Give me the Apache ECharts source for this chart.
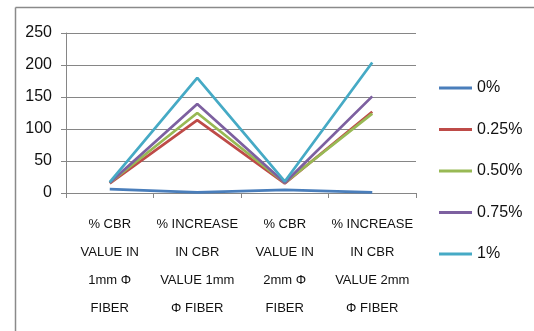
<!DOCTYPE html>
<html>
<head>
<meta charset="utf-8">
<script src="https://cdn.jsdelivr.net/npm/echarts@6/dist/echarts.min.js"></script>
<style>
  html, body { margin: 0; padding: 0; background: #fff; }
  #chart { width: 534px; height: 331px; }
</style>
</head>
<body>
<div id="chart"></div>
<script>
// Categories along the x axis
var categories = [
  '% CBR\nVALUE IN\n1mm Φ\nFIBER',
  '% INCREASE\nIN CBR\nVALUE 1mm\nΦ FIBER',
  '% CBR\nVALUE IN\n2mm Φ\nFIBER',
  '% INCREASE\nIN CBR\nVALUE 2mm\nΦ FIBER'
];

// Series names (fiber content)
var seriesNames = ['0%', '0.25%', '0.50%', '0.75%', '1%'];

// Values per series
var s0 = [6, 1, 5, 1];
var s025 = [15, 114, 15, 127];
var s050 = [16, 125, 16, 124];
var s075 = [16, 139, 16, 151];
var s1 = [17, 180, 18, 204];

var seriesColors = ['#4A7EBB', '#BE4B48', '#98B954', '#7D60A0', '#46AAC5'];

var FONT = '"Liberation Sans Narrow", "Liberation Sans", sans-serif';

var chart = echarts.init(document.getElementById('chart'), null, { renderer: 'canvas' });

var allValues = [s0, s025, s050, s075, s1];

chart.setOption({
  animation: false,
  backgroundColor: '#fff',
  grid: { left: 66, top: 33, right: 118, bottom: 138 },
  graphic: [
    { type: 'line', shape: { x1: 15.5, y1: 7.5, x2: 534, y2: 7.5 }, style: { stroke: '#8a8a8a', lineWidth: 1.5 } },
    { type: 'line', shape: { x1: 15.5, y1: 7.5, x2: 15.5, y2: 331 }, style: { stroke: '#8a8a8a', lineWidth: 1.5 } }
  ],
  legend: {
    orient: 'vertical',
    left: 434,
    top: 75,
    itemGap: 25.5,
    itemWidth: 33,
    itemHeight: 3,
    icon: 'rect',
    textStyle: { fontFamily: FONT, fontSize: 16, color: '#111' },
    data: seriesNames
  },
  xAxis: {
    type: 'category',
    data: categories,
    boundaryGap: true,
    axisLine: { lineStyle: { color: '#868686', width: 1 } },
    axisTick: { show: true, length: 5, lineStyle: { color: '#868686' } },
    axisLabel: {
      interval: 0,
      fontFamily: FONT,
      fontSize: 13,
      color: '#111',
      lineHeight: 28,
      margin: 17
    }
  },
  yAxis: {
    type: 'value',
    min: 0,
    max: 250,
    interval: 50,
    axisLine: { show: true, lineStyle: { color: '#868686', width: 1 } },
    axisTick: { show: true, length: 5, lineStyle: { color: '#868686' } },
    splitLine: { lineStyle: { color: '#868686', width: 1 } },
    axisLabel: {
      fontFamily: FONT,
      fontSize: 16,
      color: '#111',
      margin: 14
    }
  },
  series: seriesNames.map(function (name, i) {
    return {
      name: name,
      type: 'line',
      data: allValues[i],
      symbol: 'none',
      lineStyle: { width: 2.75, color: seriesColors[i] },
      itemStyle: { color: seriesColors[i] },
      z: 2 + i
    };
  })
});
</script>
</body>
</html>
